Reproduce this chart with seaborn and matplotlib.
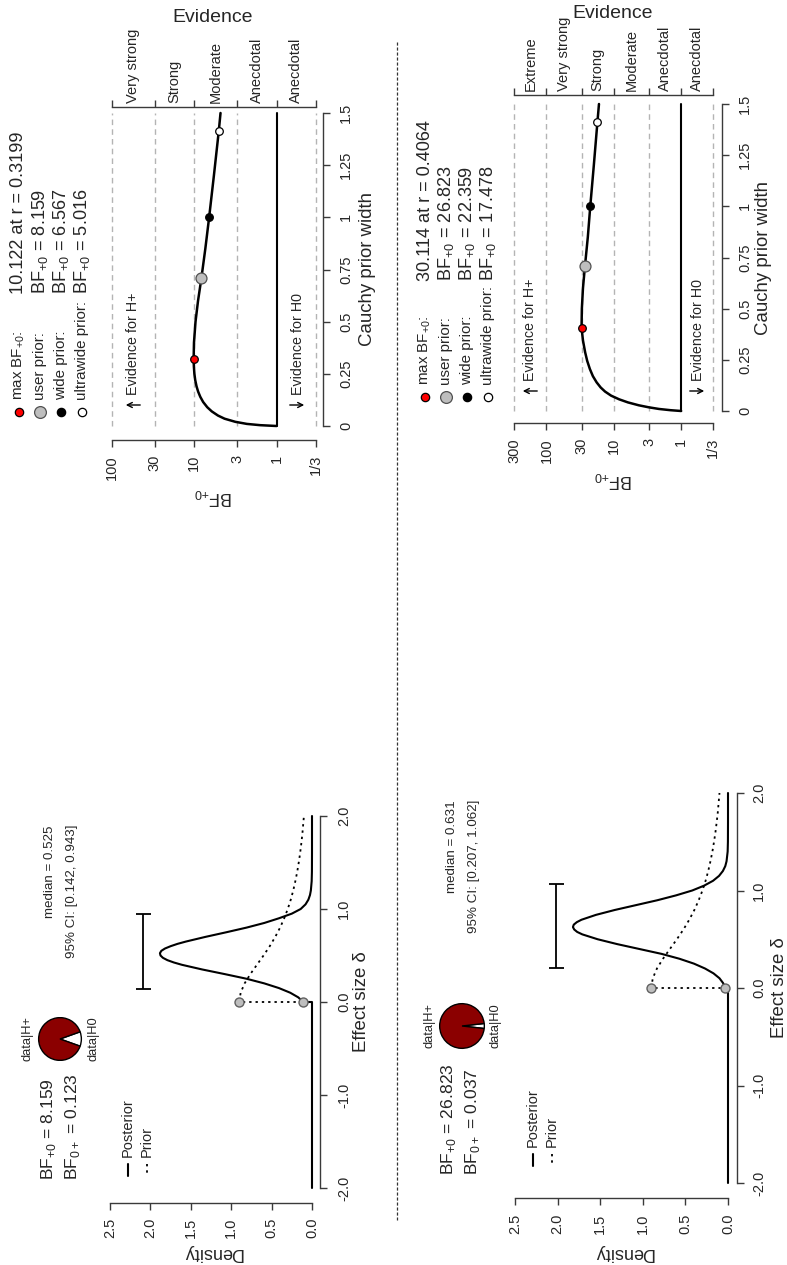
import numpy as np
import pandas as pd
import matplotlib
matplotlib.use("Agg")
import matplotlib.pyplot as plt
import seaborn as sns
from matplotlib import font_manager
from matplotlib.lines import Line2D

# ---------------- data ----------------
bf_plus0 = [8.159, 26.823]
bf_0plus = [0.123, 0.037]
post_median = [0.525, 0.631]
ci_low = [0.142, 0.207]
ci_high = [0.943, 1.062]
ci_height = [2.09, 2.02]

delta_post_1 = [0.0, 0.05, 0.10, 0.15, 0.20, 0.25, 0.30, 0.35, 0.40, 0.425, 0.45, 0.475, 0.50,
                0.525, 0.55, 0.575, 0.60, 0.625, 0.65, 0.70, 0.75, 0.80, 0.85, 0.90, 0.95, 1.00,
                1.05, 1.10, 1.15, 1.20, 1.30, 1.40, 1.60, 2.00]
posterior_1 = [0.11, 0.17, 0.27, 0.41, 0.59, 0.81, 1.08, 1.36, 1.61, 1.71, 1.79, 1.845, 1.875,
               1.882, 1.865, 1.82, 1.75, 1.665, 1.56, 1.32, 1.06, 0.81, 0.59, 0.41, 0.25, 0.14,
               0.08, 0.045, 0.025, 0.014, 0.004, 0.001, 0.0, 0.0]

delta_post_2 = [0.0, 0.05, 0.10, 0.15, 0.20, 0.25, 0.30, 0.35, 0.40, 0.45, 0.50, 0.55, 0.575,
                0.60, 0.625, 0.65, 0.675, 0.70, 0.75, 0.80, 0.85, 0.90, 0.95, 1.00, 1.05, 1.10,
                1.15, 1.20, 1.25, 1.30, 1.40, 1.50, 1.70, 2.00]
posterior_2 = [0.034, 0.057, 0.10, 0.17, 0.27, 0.40, 0.57, 0.78, 1.04, 1.30, 1.53, 1.71, 1.77,
               1.805, 1.82, 1.81, 1.775, 1.72, 1.55, 1.33, 1.08, 0.83, 0.61, 0.42, 0.28, 0.175,
               0.105, 0.06, 0.032, 0.017, 0.004, 0.001, 0.0, 0.0]

delta_prior = [0.0, 0.1, 0.2, 0.3, 0.4, 0.5, 0.6, 0.7, 0.8, 0.9, 1.0, 1.1, 1.2, 1.3, 1.4, 1.5,
               1.6, 1.7, 1.8, 1.9, 2.0]
prior_density = [0.900, 0.883, 0.834, 0.763, 0.682, 0.600, 0.523, 0.455, 0.395, 0.344, 0.300,
                 0.263, 0.232, 0.206, 0.183, 0.164, 0.147, 0.133, 0.120, 0.110, 0.100]

r_grid_1 = [0.0, 0.004, 0.01, 0.02, 0.035, 0.05, 0.07, 0.09, 0.115, 0.14, 0.165, 0.19, 0.22,
            0.25, 0.285, 0.3199, 0.4, 0.5, 0.6, 0.707, 0.85, 1.0, 1.2, 1.414, 1.5]
bf_curve_1 = [1.0, 1.585, 2.29, 3.16, 4.27, 5.13, 6.10, 6.92, 7.76, 8.41, 8.93, 9.33, 9.68,
              9.91, 10.05, 10.122, 10.02, 9.6, 8.95, 8.159, 7.3, 6.567, 5.75, 5.016, 4.78]
r_grid_2 = [0.0, 0.004, 0.01, 0.018, 0.028, 0.042, 0.057, 0.075, 0.095, 0.115, 0.14, 0.17,
            0.205, 0.245, 0.286, 0.345, 0.4064, 0.5, 0.6, 0.707, 0.85, 1.0, 1.2, 1.414, 1.5]
bf_curve_2 = [1.0, 1.445, 2.138, 3.02, 4.27, 6.17, 8.32, 10.96, 13.49, 15.67, 17.99, 20.42,
              22.65, 24.83, 26.6, 28.7, 30.114, 29.8, 28.7, 26.823, 24.3, 22.359, 19.8, 17.478,
              16.6]

max_r = [0.3199, 0.4064]
max_bf = [10.122, 30.114]
prior_widths = [0.707, 1.0, 1.414]            # user, wide, ultrawide
bf_at_widths_1 = [8.159, 6.567, 5.016]
bf_at_widths_2 = [26.823, 22.359, 17.478]

bf_ticks_1 = [100, 30, 10, 3, 1, 1 / 3]
bf_tick_labels_1 = ["100", "30", "10", "3", "1", "1/3"]
evidence_1 = ["Very strong", "Strong", "Moderate", "Anecdotal", "Anecdotal"]
bf_ticks_2 = [300, 100, 30, 10, 3, 1, 1 / 3]
bf_tick_labels_2 = ["300", "100", "30", "10", "3", "1", "1/3"]
evidence_2 = ["Extreme", "Very strong", "Strong", "Moderate", "Anecdotal", "Anecdotal"]

density_ticks = [0.0, 0.5, 1.0, 1.5, 2.0, 2.5]
delta_ticks = [-2.0, -1.0, 0.0, 1.0, 2.0]
r_ticks = [0, 0.25, 0.5, 0.75, 1, 1.25, 1.5]
r_tick_labels = ["0", "0.25", "0.5", "0.75", "1", "1.25", "1.5"]

# ---------------- setup ----------------
W, H, DPI = 787, 1265, 100
P = 0.72  # px -> pt

fams = {f.name for f in font_manager.fontManager.ttflist}
REG = "Liberation Sans" if "Liberation Sans" in fams else "DejaVu Sans"
if "Liberation Sans Narrow" in fams:
    NAR, K = "Liberation Sans Narrow", 1.0
else:
    NAR, K = REG, 0.84
NARL = [NAR, REG, "DejaVu Sans"]
REGL = [REG, "DejaVu Sans"]

sns.set_style("white")
plt.rcParams.update({
    "font.family": REGL,
    "mathtext.fontset": "custom",
    "mathtext.rm": REG,
    "axes.unicode_minus": False,
})

AXC = "#3a3a3a"
TICK = 12.5 * K
LEG_NAME = 13.0 * K
LEG_VAL = 15.5 * K
fig = plt.figure(figsize=(W / DPI, H / DPI), dpi=DPI, facecolor="white")


def fx(x):
    return x / W


def fy(y):
    return 1 - y / H


def add_ax(x0, x1, y0, y1):
    return fig.add_axes([fx(x0), fy(y1), (x1 - x0) / W, (y1 - y0) / H])


def ftext(x, y, s, **kw):
    return fig.text(fx(x), fy(y), s, **kw)


def vtext(x, y, s, size, va="center", fam=None, **kw):
    return ftext(x, y, s, rotation=90, ha="center", va=va, fontsize=size,
                 fontfamily=fam or NARL, **kw)


def fig_line(xs, ys, **kw):
    fig.add_artist(Line2D([fx(v) for v in xs], [fy(v) for v in ys],
                          transform=fig.transFigure, **kw))


def fig_arrow(xa, xb, y):
    fig.add_artist(matplotlib.patches.FancyArrowPatch(
        (fx(xa), fy(y)), (fx(xb), fy(y)), transform=fig.transFigure,
        arrowstyle="->", mutation_scale=9, lw=1.0, color="black"))


# ---------------- prior / posterior panel ----------------
def density_panel(i, box, out_b, out_r, pad_b, pad_r, d_post, v_post, lay):
    x0, x1, y0, y1 = box
    ax = add_ax(x0, x1, y0, y1)
    prior = pd.DataFrame({"delta": [-2.0, 0.0] + delta_prior,
                          "density": [0.0, 0.0] + prior_density})
    post = pd.DataFrame({"delta": [-2.0, 0.0] + d_post,
                         "density": [0.0, 0.0] + v_post})
    sns.lineplot(data=prior, x="density", y="delta", sort=False, estimator=None,
                 color="black", linewidth=1.3, linestyle=(0, (1.3, 2.2)),
                 clip_on=False, ax=ax)
    sns.lineplot(data=post, x="density", y="delta", sort=False, estimator=None,
                 color="black", linewidth=1.5, clip_on=False, ax=ax)
    med, lo, hi = post_median[i], ci_low[i], ci_high[i]
    ax.errorbar(x=[ci_height[i]], y=[med], yerr=[[med - lo], [hi - med]], fmt="none",
                ecolor="black", elinewidth=1.3, capsize=5.4, capthick=1.3)
    sns.scatterplot(x=[prior_density[0], v_post[0]], y=[0.0, 0.0], color="#bebebe",
                    edgecolor="#606060", s=42, linewidth=1.0, zorder=6, clip_on=False,
                    ax=ax)
    ax.set_xlim(2.5, 0)
    ax.set_ylim(-2, 2)
    ax.set_xlabel("")
    ax.set_ylabel("")
    ax.set_facecolor("none")
    ax.spines["left"].set_visible(False)
    ax.spines["top"].set_visible(False)
    for s in ("bottom", "right"):
        ax.spines[s].set_color(AXC)
        ax.spines[s].set_linewidth(1.0)
    ax.spines["bottom"].set_position(("outward", out_b * P))
    ax.spines["right"].set_position(("outward", out_r * P))
    ax.set_xticks(density_ticks)
    ax.set_xticklabels([f"{t:.1f}" for t in density_ticks], rotation=90,
                       fontsize=TICK, fontfamily=NARL)
    ax.yaxis.tick_right()
    ax.set_yticks(delta_ticks)
    ax.set_yticklabels([f"{t:.1f}" for t in delta_ticks], rotation=90, va="center",
                       fontsize=TICK, fontfamily=NARL)
    ax.tick_params(axis="x", bottom=True, direction="out", length=7 * P, width=1,
                   color=AXC, pad=pad_b * P)
    ax.tick_params(axis="y", right=True, left=False, direction="out", length=7 * P,
                   width=1, color=AXC, pad=pad_r * P)

    # axis titles
    vtext(lay["eff"][0], lay["eff"][1], "Effect size δ", 16 * K)
    ftext(lay["dens"][0], lay["dens"][1], "Density", rotation=180, ha="center",
          va="center", fontsize=13, fontfamily=REGL)
    # BF text
    bx, by = lay["bf"]
    vtext(bx, by, "BF$_{\\mathregular{+0}}$ = %.3f" % bf_plus0[i], 15 * K, va="bottom")
    vtext(bx + 24, by, "BF$_{\\mathregular{0+}}$ = %.3f" % bf_0plus[i], 15 * K, va="bottom")
    # pie
    cx, cy, rr = lay["pie"]
    pax = add_ax(cx - rr, cx + rr, cy - rr, cy + rr)
    p0 = 1.0 / (1.0 + bf_plus0[i])
    pax.pie([1.0, bf_plus0[i]], colors=["white", "#8b0000"], startangle=-p0 * 180,
            counterclock=True, wedgeprops=dict(edgecolor="black", linewidth=1.0))
    pax.set_xlim(-1.03, 1.03)
    pax.set_ylim(-1.03, 1.03)
    pax.set_aspect("equal")
    vtext(cx - 32, cy, "data|H+", 11 * K)
    vtext(cx + 33, cy, "data|H0", 11 * K)
    # legend
    lx, ly = lay["leg"]
    fig_line([lx, lx], [ly + 7, ly + 19], color="black", lw=1.5)
    fig_line([lx + 19, lx + 19], [ly + 7, ly + 19], color="black", lw=1.3, dashes=(1.3, 2.2))
    vtext(lx, ly, "Posterior", 12.5 * K, va="bottom")
    vtext(lx + 19, ly, "Prior", 12.5 * K, va="bottom")
    # median / CI
    mx, my = lay["med"]
    vtext(mx, my, "median = %.3f" % med, 11.5 * K, va="top")
    vtext(mx + 22, my, "95%% CI: [%.3f, %.3f]" % (lo, hi), 11.5 * K, va="top")
    return ax


# ---------------- robustness panel ----------------
def robust_panel(i, box, out_b, out_r, top_gap, r_grid, bf_curve, ticks, tlabels, cats,
                 bf_w, lay):
    x0, x1, y0, y1 = box
    ax = add_ax(x0, x1, y0, y1)
    ax.set_xscale("log")
    for t in ticks:
        if t == 1:
            ax.axvline(t, color="black", lw=1.5, clip_on=False, zorder=2)
        else:
            ax.axvline(t, color="#b4b4b4", lw=1.0, dashes=(4, 3), clip_on=False, zorder=1)
    sns.lineplot(x=bf_curve, y=r_grid, sort=False, estimator=None, color="black",
                 linewidth=1.8, clip_on=False, zorder=3, ax=ax)
    sns.scatterplot(x=[max_bf[i]], y=[max_r[i]], color="red", edgecolor="black", s=30,
                    linewidth=0.9, zorder=6, clip_on=False, ax=ax)
    sns.scatterplot(x=[bf_w[0]], y=[prior_widths[0]], color="#bebebe", edgecolor="#505050",
                    s=62, linewidth=0.9, zorder=6, clip_on=False, ax=ax)
    sns.scatterplot(x=[bf_w[1]], y=[prior_widths[1]], color="black", edgecolor="black", s=30,
                    linewidth=0.9, zorder=6, clip_on=False, ax=ax)
    sns.scatterplot(x=[bf_w[2]], y=[prior_widths[2]], color="white", edgecolor="black", s=30,
                    linewidth=0.9, zorder=6, clip_on=False, ax=ax)
    ax.set_xlim(ticks[0], ticks[-1])
    ax.set_ylim(0, 1.5)
    ax.set_xlabel("")
    ax.set_ylabel("")
    ax.set_facecolor("none")
    ax.spines["left"].set_visible(False)
    ax.spines["top"].set_visible(False)
    for s in ("bottom", "right"):
        ax.spines[s].set_color(AXC)
        ax.spines[s].set_linewidth(1.0)
    ax.spines["bottom"].set_position(("outward", out_b * P))
    ax.spines["right"].set_position(("outward", out_r * P))
    ax.set_xticks(ticks)
    ax.set_xticklabels(tlabels, rotation=90, fontsize=TICK, fontfamily=NARL)
    ax.minorticks_off()
    ax.yaxis.tick_right()
    ax.set_yticks(r_ticks)
    ax.set_yticklabels(r_tick_labels, rotation=90, va="center", fontsize=TICK,
                       fontfamily=NARL)
    ax.tick_params(axis="x", bottom=True, direction="out", length=7 * P, width=1,
                   color=AXC, pad=8 * P)
    ax.tick_params(axis="y", right=True, left=False, direction="out", length=7 * P,
                   width=1, color=AXC, pad=9 * P)
    # evidence axis on top
    sec = ax.secondary_xaxis(1 + top_gap / (y1 - y0))
    sec.set_xticks(ticks)
    sec.set_xticklabels([""] * len(ticks))
    mids = [np.sqrt(a * b) for a, b in zip(ticks[:-1], ticks[1:])]
    sec.set_xticks(mids, minor=True)
    sec.set_xticklabels(cats, minor=True, rotation=90, fontsize=12.5 * K, fontfamily=NARL)
    sec.tick_params(which="major", top=True, direction="out", length=7 * P, width=1,
                    color=AXC)
    sec.tick_params(which="minor", top=True, length=0, pad=4 * P)
    sec.spines["top"].set_color(AXC)
    sec.spines["top"].set_linewidth(1.0)

    ftext(lay["evid"][0], lay["evid"][1], "Evidence", ha="center", va="center",
          fontsize=14, fontfamily=REGL)
    vtext(lay["cauchy"][0], lay["cauchy"][1], "Cauchy prior width", 16 * K)
    ftext(lay["bflab"][0], lay["bflab"][1], "BF$_{\\mathregular{+0}}$", rotation=180,
          ha="center", va="center", fontsize=13, fontfamily=REGL)
    # evidence arrows
    ay = lay["arrow_y"]
    hx, h0x = lay["arrow_x"]
    fig_arrow(hx + 10, hx - 10, ay)
    fig_arrow(h0x - 10, h0x + 10, ay)
    vtext(hx, ay - 10, "Evidence for H+", 12.2 * K, va="bottom")
    vtext(h0x + 1, ay - 10, "Evidence for H0", 12.2 * K, va="bottom")
    # legend
    lx, ly = lay["leg"]
    vx = lay["vals_y"]
    styles = [("red", "black", 6.0), ("#bebebe", "#505050", 8.5),
              ("black", "black", 6.0), ("white", "black", 6.0)]
    names = ["max BF$_{\\mathregular{+0}}$:", "user prior:", "wide prior:", "ultrawide prior:"]
    vals = ["%.3f at r = %.4f" % (max_bf[i], max_r[i])] + \
           ["BF$_{\\mathregular{+0}}$ = %.3f" % v for v in bf_w]
    for j in range(4):
        xx = lx + j * 21
        fc, ec, ms = styles[j]
        fig.add_artist(Line2D([fx(xx)], [fy(ly)], marker="o", ms=ms, mfc=fc, mec=ec,
                              mew=0.9, linestyle="none", transform=fig.transFigure))
        vtext(xx, ly - 12, names[j], LEG_NAME, va="bottom")
        vtext(xx, vx, vals[j], LEG_VAL, va="bottom")
    return ax


# ---------------- build ----------------
robust_panel(0, (111.5, 316, 113, 426), 14, 7, 6, r_grid_1, bf_curve_1, bf_ticks_1,
             bf_tick_labels_1, evidence_1, bf_at_widths_1,
             dict(evid=(213, 17), cauchy=(367, 269), bflab=(213, 497), arrow_y=405,
                  arrow_x=(133, 297), leg=(19, 412), vals_y=294))
robust_panel(1, (514.3, 713.3, 104, 411), 12, 9, 9, r_grid_2, bf_curve_2, bf_ticks_2,
             bf_tick_labels_2, evidence_2, bf_at_widths_2,
             dict(evid=(613, 13), cauchy=(763, 258), bflab=(613, 480), arrow_y=391,
                  arrow_x=(530, 697), leg=(425, 397), vals_y=281))

density_panel(0, (110, 312, 816, 1188), 15, 8, 8, 10, delta_post_1, posterior_1,
              dict(eff=(362, 1002), dens=(212, 1253), bf=(48, 1180), pie=(60, 1039, 22),
                   leg=(128, 1157), med=(50, 825)))
density_panel(1, (515, 728, 793, 1183), 15, 9, 9, 8, delta_post_2, posterior_2,
              dict(eff=(780, 988), dens=(623, 1253), bf=(449, 1175), pie=(462, 1026, 23),
                   leg=(533, 1147), med=(452, 800)))

# separator between the two analyses
fig_line([397, 397], [42, 1220], color="#333333", lw=0.9, dashes=(2.5, 1.5))

fig.savefig("out.png", dpi=DPI, facecolor="white")
